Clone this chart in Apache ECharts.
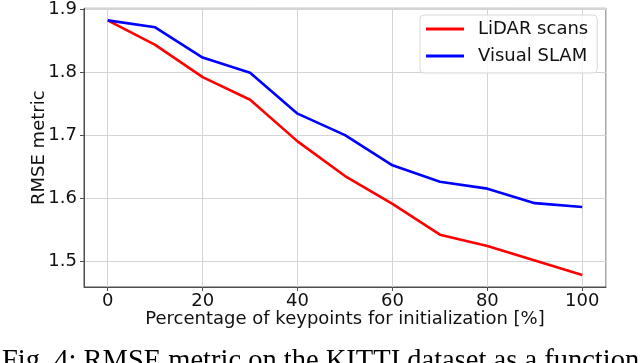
<!DOCTYPE html>
<html>
<head>
<meta charset="utf-8">
<script src="https://cdn.jsdelivr.net/npm/echarts@6/dist/echarts.min.js"></script>
<style>
  html, body { margin: 0; padding: 0; background: #fff; }
  #chart { width: 640px; height: 363px; }
</style>
</head>
<body>
<div id="chart"></div>
<script>
// data
const percentages = [0, 10, 20, 30, 40, 50, 60, 70, 80, 90, 100]
const lidarScans = [1.882, 1.843, 1.792, 1.756, 1.690, 1.635, 1.591, 1.542, 1.524, 1.501, 1.478]
const visualSlam = [1.882, 1.871, 1.823, 1.799, 1.734, 1.700, 1.652, 1.626, 1.615, 1.592, 1.586]
const seriesNames = ['LiDAR scans', 'Visual SLAM']
const caption = 'Fig. 4: RMSE metric on the KITTI dataset as a function of the percentage'

const font = 'DejaVu Sans'
const axisColor = '#4d4d4d'
const gridColor = '#d4d4d4'

const toPairs = (ys) => percentages.map((x, i) => [x, ys[i]])

const chart = echarts.init(document.getElementById('chart'), null, { renderer: 'canvas' })

const option = {
  animation: false,
  backgroundColor: '#fff',
  textStyle: { fontFamily: font },
  grid: {
    left: 84,
    top: 6,
    width: 522,
    height: 281,
    show: true,
    borderColor: axisColor,
    borderWidth: 1,
    backgroundColor: 'transparent'
  },
  xAxis: {
    type: 'value',
    min: -5,
    max: 105,
    splitNumber: 5,
    name: 'Percentage of keypoints for initialization [%]',
    nameLocation: 'middle',
    nameGap: 23,
    nameMoveOverlap: false,
    nameTextStyle: { fontSize: 18, color: '#111', fontFamily: font, lineHeight: 18 },
    axisLine: { show: true, onZero: false, lineStyle: { color: axisColor, width: 1 } },
    axisTick: { show: true, length: 4, lineStyle: { color: axisColor } },
    axisLabel: {
      fontSize: 18,
      color: '#111',
      margin: 5,
      showMinLabel: false,
      showMaxLabel: false
    },
    splitLine: { show: true, lineStyle: { color: gridColor, width: 1 } }
  },
  yAxis: {
    type: 'value',
    min: 1.459,
    max: 1.901,
    splitNumber: 5,
    name: 'RMSE metric',
    nameLocation: 'middle',
    nameGap: 36,
    nameMoveOverlap: false,
    nameTextStyle: { fontSize: 18, color: '#111', fontFamily: font, lineHeight: 18 },
    axisLine: { show: true, onZero: false, lineStyle: { color: axisColor, width: 1 } },
    axisTick: { show: true, length: 4, lineStyle: { color: axisColor } },
    axisLabel: {
      fontSize: 18,
      color: '#111',
      margin: 7,
      showMinLabel: false,
      showMaxLabel: false,
      formatter: (v) => v.toFixed(1)
    },
    splitLine: { show: true, lineStyle: { color: gridColor, width: 1 } }
  },
  legend: {
    left: 420,
    top: 15,
    orient: 'vertical',
    align: 'left',
    data: seriesNames,
    icon: 'rect',
    itemWidth: 38,
    itemHeight: 3,
    itemGap: 9,
    padding: [5, 9, 8, 6],
    borderColor: '#d9d9d9',
    borderWidth: 1,
    borderRadius: 4,
    backgroundColor: 'rgba(255,255,255,0.8)',
    textStyle: { fontSize: 18, color: '#111', fontFamily: font, lineHeight: 18, padding: [0, 0, 0, 9] }
  },
  series: [
    {
      name: seriesNames[0],
      type: 'line',
      data: toPairs(lidarScans),
      showSymbol: false,
      symbol: 'none',
      itemStyle: { color: '#ff0000' },
      lineStyle: { color: '#ff0000', width: 2.6 }
    },
    {
      name: seriesNames[1],
      type: 'line',
      data: toPairs(visualSlam),
      showSymbol: false,
      symbol: 'none',
      itemStyle: { color: '#0000ff' },
      lineStyle: { color: '#0000ff', width: 2.6 }
    }
  ],
  graphic: [
    {
      type: 'text',
      x: 2,
      y: 362,
      silent: true,
      style: {
        text: caption,
        font: '28.5px "Liberation Serif"',
        fill: '#000',
        verticalAlign: 'middle'
      }
    }
  ]
}

chart.setOption(option)
</script>
</body>
</html>
